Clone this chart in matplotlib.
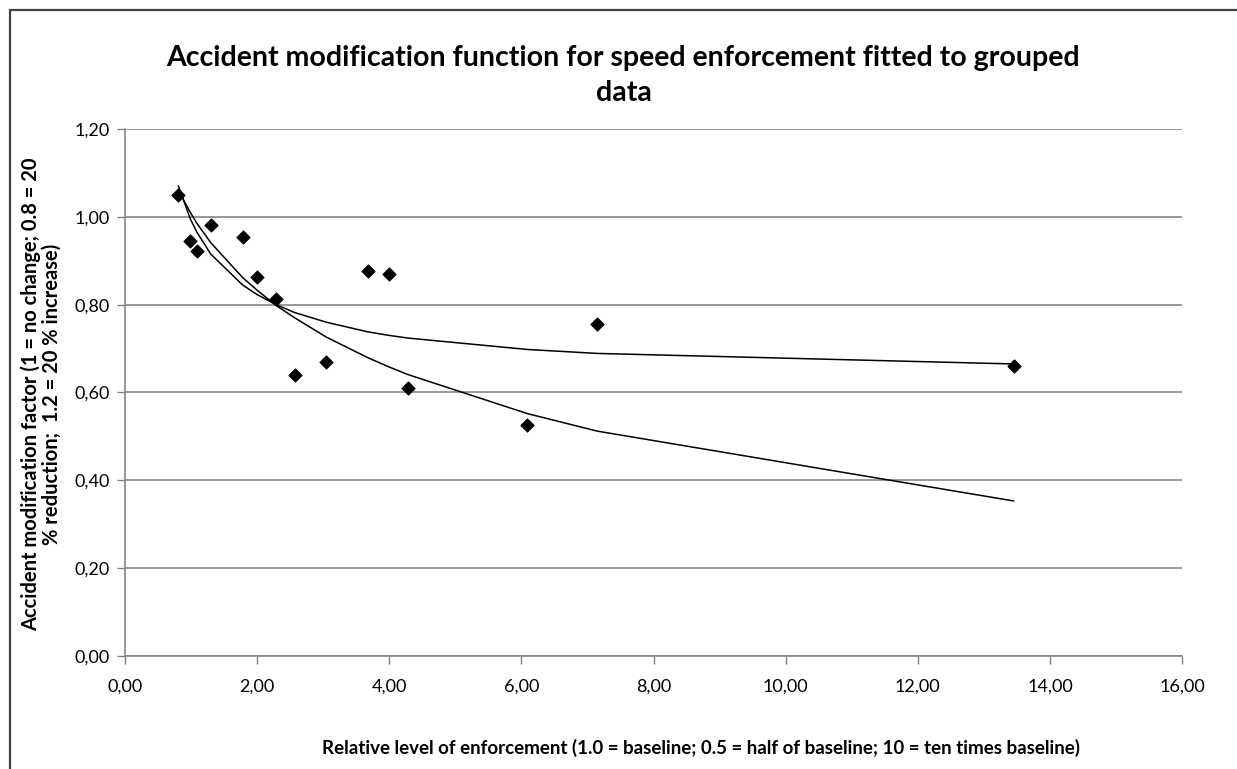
import matplotlib.pyplot as plt
from matplotlib.patches import Rectangle
from matplotlib.ticker import FuncFormatter

plt.rcParams['font.family'] = ['Lato', 'DejaVu Sans']

# grouped data (relative enforcement level, accident modification factor)
enforcement = [0.81, 0.99, 1.09, 1.30, 1.78, 2.00, 2.29, 2.57, 3.05, 3.68, 4.00, 4.28, 6.09, 7.15, 13.45]
amf = [1.05, 0.946, 0.922, 0.981, 0.954, 0.863, 0.813, 0.640, 0.669, 0.876, 0.869, 0.611, 0.526, 0.755, 0.660]

# two fitted curves, read at the data points
fit_flat = [1.07, 0.995, 0.965, 0.915, 0.845, 0.823, 0.800, 0.782, 0.760, 0.738, 0.730, 0.724, 0.698, 0.689, 0.665]
fit_steep = [1.060, 1.010, 0.985, 0.941, 0.862, 0.833, 0.798, 0.770, 0.726, 0.679, 0.658, 0.641, 0.552, 0.512, 0.353]

fig = plt.figure(figsize=(12.37, 7.69), dpi=100)
ax = fig.add_axes([0.101, 0.147, 0.8546, 0.6852])

ax.plot(enforcement, fit_flat, color='black', lw=1.1, zorder=3)
ax.plot(enforcement, fit_steep, color='black', lw=1.1, zorder=3)
ax.scatter(enforcement, amf, marker='D', s=42, color='black', zorder=4)

ax.set_xlim(0, 16)
ax.set_ylim(0, 1.2)
ax.set_xticks(range(0, 17, 2))
ax.set_yticks([0, 0.2, 0.4, 0.6, 0.8, 1.0, 1.2])
comma = FuncFormatter(lambda v, p: f"{v:.2f}".replace('.', ','))
ax.xaxis.set_major_formatter(comma)
ax.yaxis.set_major_formatter(comma)
ax.tick_params(colors='#808080', labelcolor='black', labelsize=13, length=6, width=1)
ax.tick_params(axis='x', pad=10)
ax.tick_params(axis='y', pad=5)
ax.grid(axis='y', color='#868686', lw=1.2)
ax.set_axisbelow(True)
for s in ['top', 'right']:
    ax.spines[s].set_visible(False)
for s in ['left', 'bottom']:
    ax.spines[s].set_color('#868686')
    ax.spines[s].set_linewidth(1.2)

fig.text(0.504, 0.902, "Accident modification function for speed enforcement fitted to grouped\ndata",
         ha='center', va='center', fontsize=20.5, fontweight='bold', linespacing=1.45)
fig.text(0.567, 0.027, "Relative level of enforcement (1.0 = baseline; 0.5 = half of baseline; 10 = ten times baseline)",
         ha='center', va='center', fontsize=13.5, fontweight='bold')
fig.text(0.033, 0.487, "Accident modification factor (1 = no change; 0.8 = 20\n% reduction;  1.2 = 20 % increase)",
         ha='center', va='center', rotation=90, fontsize=14.5, fontweight='bold', linespacing=1.05)

# chart frame (only left and top edges fall inside the image)
fig.patches.append(Rectangle((10 / 1237, -0.1), 1.2, 1 - 10 / 769 + 0.1, transform=fig.transFigure,
                             fill=False, edgecolor='#404040', lw=1.6))

fig.savefig('out.png', dpi=100)
